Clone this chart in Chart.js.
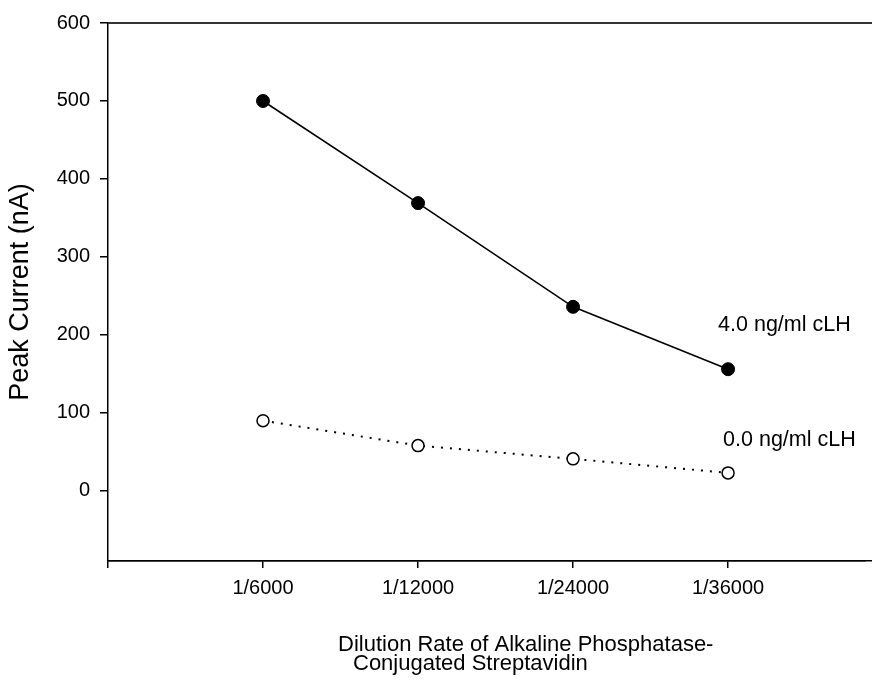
<!DOCTYPE html>
<html>
<head>
<meta charset="utf-8">
<script src="https://cdn.jsdelivr.net/npm/chart.js@4.4.0/dist/chart.umd.min.js"></script>
<style>
  body { margin: 0; background: #fff; overflow: hidden; }
  #wrap { position: relative; width: 872px; height: 694px; }
</style>
</head>
<body>
<div id="wrap"><canvas id="myChart"></canvas></div>
<script>
// data
const categories = ['1/6000', '1/12000', '1/24000', '1/36000'];
const withLH = [500, 369, 236, 156];     // 4.0 ng/ml cLH
const withoutLH = [90, 58, 41, 23];      // 0.0 ng/ml cLH
const seriesNames = ['4.0 ng/ml cLH', '0.0 ng/ml cLH'];
const yTicks = [0, 100, 200, 300, 400, 500, 600];
const xTitle = ['Dilution Rate of Alkaline Phosphatase-', 'Conjugated Streptavidin'];

const FONT = '"Liberation Sans", Arial, Helvetica, sans-serif';

function toPoints(arr) {
    return arr.map((v, i) => ({ x: i + 1, y: v }));
}

// same snapping chart.js uses for its border lines
function snap(p, w) {
    return Math.round(p - w / 2) + w / 2;
}

// top frame line, axis run-out to the edge, series names and two-line x title
const extras = {
    id: 'extras',
    afterDraw(chart) {
        const ctx = chart.ctx;
        const a = chart.chartArea;
        const xs = chart.scales.x, ys = chart.scales.y;
        ctx.save();
        ctx.strokeStyle = '#333';
        ctx.lineWidth = 2;
        ctx.beginPath();
        ctx.moveTo(a.left, a.top);
        ctx.lineTo(chart.width, a.top);
        ctx.stroke();
        ctx.strokeStyle = '#000';
        ctx.lineWidth = 1.5;
        ctx.lineCap = 'butt';
        const yb = snap(xs.top, 1.5);
        ctx.beginPath();
        ctx.moveTo(a.left, yb);
        ctx.lineTo(chart.width, yb);
        ctx.stroke();

        ctx.fillStyle = '#000';
        ctx.font = '21.5px ' + FONT;
        ctx.textBaseline = 'middle';
        ctx.textAlign = 'left';
        ctx.fillText(seriesNames[0], xs.getPixelForValue(4) - 10, ys.getPixelForValue(213));
        ctx.fillText(seriesNames[1], xs.getPixelForValue(4) - 5, ys.getPixelForValue(65));

        ctx.font = '22px ' + FONT;
        ctx.textBaseline = 'alphabetic';
        ctx.fillText(xTitle[0], a.left + 230, 651);
        ctx.fillText(xTitle[1], a.left + 245, 670);
        ctx.restore();
    }
};

const ctx = document.getElementById('myChart');
new Chart(ctx, {
    type: 'line',
    data: {
        datasets: [{
            label: seriesNames[0],
            data: toPoints(withLH),
            borderColor: '#000',
            borderWidth: 1.6,
            pointRadius: 6.5,
            pointBackgroundColor: '#000',
            pointBorderColor: '#000',
            pointBorderWidth: 1,
            tension: 0
        }, {
            label: seriesNames[1],
            data: toPoints(withoutLH),
            borderColor: '#000',
            borderWidth: 2,
            borderDash: [2, 7],
            pointRadius: 6,
            pointBackgroundColor: '#fff',
            pointBorderColor: '#000',
            pointBorderWidth: 1.5,
            tension: 0
        }]
    },
    options: {
        responsive: true,
        maintainAspectRatio: false,
        animation: false,
        layout: { padding: { top: 23, right: 0, left: 0, bottom: 0 } },
        plugins: {
            legend: { display: false },
            tooltip: { enabled: false }
        },
        scales: {
            x: {
                type: 'linear',
                min: 0,
                max: 4.88,
                afterBuildTicks(scale) {
                    scale.ticks = [0, 1, 2, 3, 4].map(v => ({ value: v }));
                },
                afterFit(scale) { scale.height = 133; },
                grid: { drawOnChartArea: false, drawTicks: true, tickLength: 7, color: '#000', lineWidth: 1.5 },
                border: { display: true, color: '#000', width: 1.5 },
                ticks: {
                    padding: 8,
                    color: '#000',
                    font: { family: FONT, size: 20 },
                    maxRotation: 0,
                    autoSkip: false,
                    callback: v => categories[v - 1] || ''
                }
            },
            y: {
                min: -90,
                max: 600,
                afterBuildTicks(scale) {
                    scale.ticks = yTicks.map(v => ({ value: v }));
                },
                afterFit(scale) { scale.width = 108; },
                grid: { drawOnChartArea: false, drawTicks: true, tickLength: 8, color: '#000', lineWidth: 1.5 },
                border: { display: true, color: '#000', width: 1.5 },
                ticks: {
                    padding: 10,
                    color: '#000',
                    font: { family: FONT, size: 20 }
                },
                title: {
                    display: true,
                    text: 'Peak Current (nA)',
                    color: '#000',
                    font: { family: FONT, size: 27, weight: 'normal' },
                    padding: { top: 4, bottom: 0 }
                }
            }
        }
    },
    plugins: [extras]
});
</script>
</body>
</html>
